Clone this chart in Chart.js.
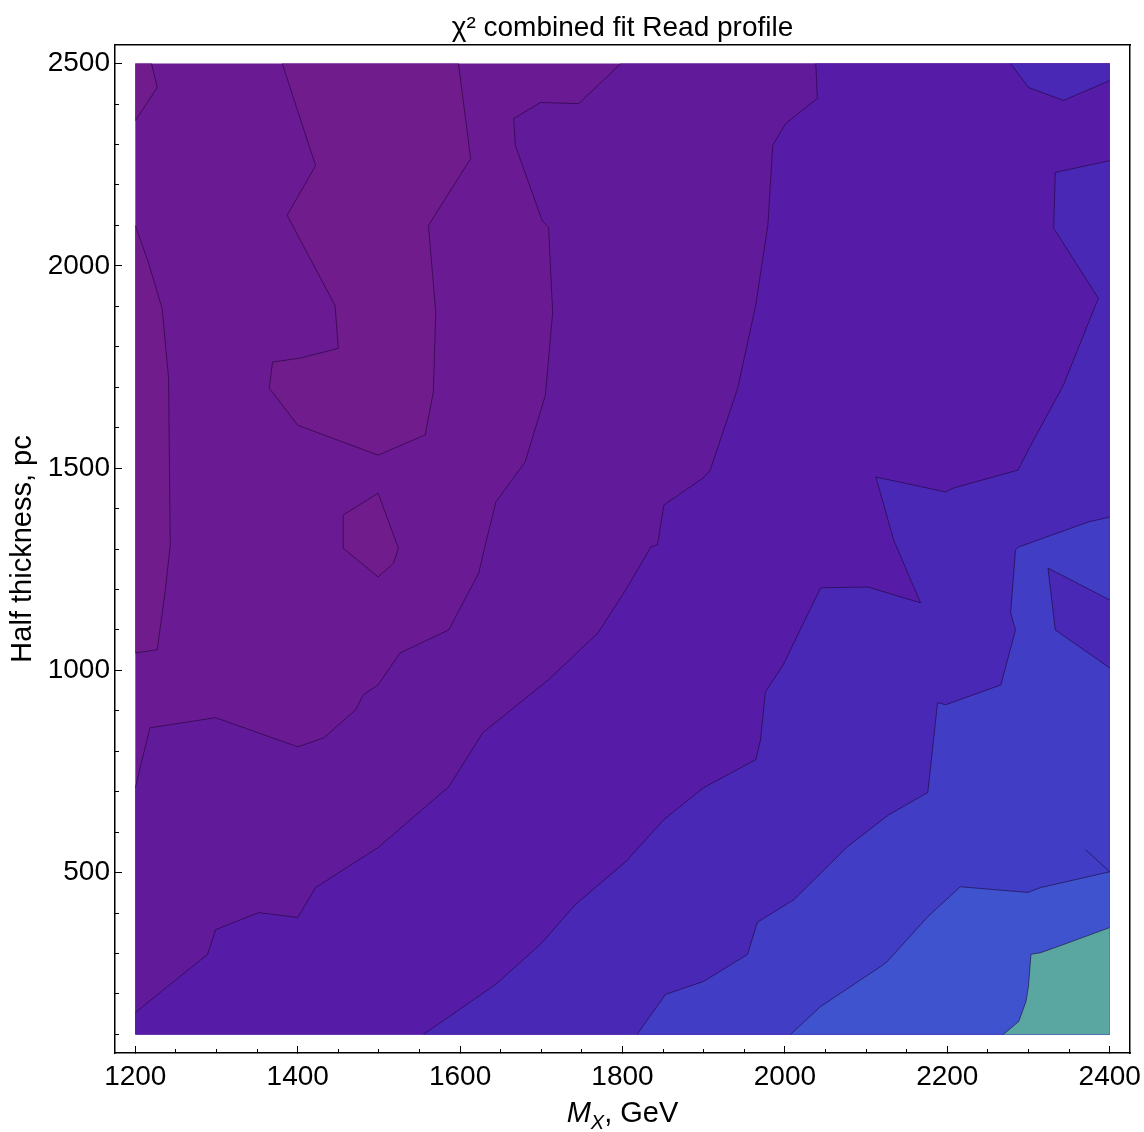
<!DOCTYPE html>
<html><head><meta charset="utf-8">
<script src="https://cdn.jsdelivr.net/npm/chart.js@4.4.1/dist/chart.umd.min.js"></script>
<style>html,body{margin:0;padding:0;background:#fff;}#wrap{width:1144px;height:1132px;position:relative;}</style>
</head><body><div id="wrap"><canvas id="c"></canvas></div>
<script>
const FONT = "'Liberation Sans', Arial, Helvetica, sans-serif";
// ---- tick labels ----
const xTickLabels = [1200, 1400, 1600, 1800, 2000, 2200, 2400];
const xMinorTicks = [1250, 1300, 1350, 1450, 1500, 1550, 1650, 1700, 1750, 1850, 1900, 1950, 2050, 2100, 2150, 2250, 2300, 2350];
const yTickLabels = [500, 1000, 1500, 2000, 2500];
const yMinorTicks = [100, 200, 300, 400, 600, 700, 800, 900, 1100, 1200, 1300, 1400, 1600, 1700, 1800, 1900, 2100, 2200, 2300, 2400];
// ---- contour regions (M_X GeV, half thickness pc) ----
const regionBase = [[1200,100],[2400,100],[2400,2500],[1200,2500],[1200,100]];
const regionL3 = [[1798,2500],[1746,2401],[1699,2404],[1666,2364],[1668,2298],[1701,2112],[1709,2095],[1714,1885],[1705,1680],[1680,1515],[1644,1416],[1631,1310],[1623,1241],[1586,1100],[1526,1043],[1499,964],[1481,940],[1471,902],[1432,833],[1400,811],[1299,883],[1218,858],[1200,710],[1200,100],[2400,100],[2400,2500],[1798,2500]];
const regionL4 = [[2038,2500],[2040,2414],[2001,2352],[1985,2298],[1979,2100],[1964,1902],[1942,1698],[1908,1495],[1899,1475],[1851,1409],[1843,1310],[1835,1305],[1804,1199],[1770,1093],[1709,977],[1628,846],[1586,712],[1499,562],[1422,463],[1400,389],[1352,401],[1299,359],[1289,298],[1200,154],[1200,100],[2400,100],[2400,2500],[2038,2500]];
const regionL5 = [[1555,100],[1644,224],[1689,305],[1701,327],[1742,421],[1804,527],[1851,631],[1900,710],[1964,779],[1970,828],[1976,947],[1998,1014],[2044,1204],[2102,1206],[2167,1167],[2134,1322],[2112,1478],[2198,1441],[2208,1451],[2287,1495],[2303,1557],[2343,1705],[2386,1920],[2331,2093],[2333,2231],[2400,2260],[2400,100],[1555,100]];
const regionL5corner = [[2278,2500],[2300,2441],[2343,2409],[2400,2458],[2400,2500],[2278,2500]];
const regionL6 = [[2400,1379],[2374,1367],[2288,1305],[2284,1298],[2278,1142],[2284,1100],[2266,964],[2198,915],[2188,920],[2176,698],[2128,643],[2077,564],[2011,433],[1966,377],[1954,298],[1900,231],[1853,199],[1818,100],[2400,100],[2400,1379]];
const regionL5island = [[2324,1253],[2400,1174],[2400,1006],[2333,1100],[2324,1253]];
const regionL7 = [[2007,100],[2044,169],[2118,268],[2126,280],[2176,391],[2216,465],[2299,451],[2315,463],[2400,502],[2400,100],[2007,100]];
const regionL8 = [[2269,100],[2288,132],[2297,182],[2300,219],[2303,298],[2315,302],[2343,322],[2400,364],[2400,100],[2269,100]];
const regionL1corner = [[1200,2500],[1220,2500],[1227,2441],[1200,2359],[1200,2500]];
const regionL1strip = [[1200,2100],[1216,2009],[1233,1895],[1241,1722],[1243,1310],[1237,1199],[1227,1051],[1200,1043],[1200,2100]];
const regionL1blob = [[1381,2500],[1422,2248],[1387,2125],[1446,1902],[1450,1796],[1403,1772],[1369,1762],[1365,1698],[1400,1606],[1499,1532],[1557,1582],[1567,1688],[1570,1885],[1561,2100],[1613,2265],[1598,2500],[1381,2500]];
const regionL1island = [[1456,1384],[1499,1438],[1524,1302],[1518,1265],[1499,1231],[1456,1302],[1456,1384]];
const contourSliver = [[2370,557],[2400,502]];

const C = {L1:'#701c8c', L2:'#6a1b93', L3:'#611b9a', L4:'#561ca8', L5:'#4a28b6', L6:'#413dc5', L7:'#3e53cd', L8:'#5aa6a0'};
const LINE = 'rgba(25,0,45,0.55)';
const X0 = 1200, X1 = 2400, Y0 = 100, Y1 = 2500;
const XMIN = 1175, XMAX = 2425, YMIN = 54, YMAX = 2546;

const layers = [
  {pts: regionBase, color: C.L2, stroke: false},
  {pts: regionL3, color: C.L3, stroke: true},
  {pts: regionL4, color: C.L4, stroke: true},
  {pts: regionL5, color: C.L5, stroke: true},
  {pts: regionL5corner, color: C.L5, stroke: true},
  {pts: regionL6, color: C.L6, stroke: true},
  {pts: regionL5island, color: C.L5, stroke: true},
  {pts: regionL7, color: C.L7, stroke: true},
  {pts: regionL8, color: C.L8, stroke: true},
  {pts: regionL1corner, color: C.L1, stroke: true},
  {pts: regionL1strip, color: C.L1, stroke: true},
  {pts: regionL1blob, color: C.L1, stroke: true},
  {pts: regionL1island, color: C.L1, stroke: true},
  {pts: contourSliver, color: null, stroke: true}
];
const toXY = a => a.map(([x, y]) => ({x, y}));
const onEdge = (a, b) => (a.x === X0 && b.x === X0) || (a.x === X1 && b.x === X1) || (a.y === Y0 && b.y === Y0) || (a.y === Y1 && b.y === Y1);
const datasets = [];
layers.forEach((l, i) => {
  if (!l.color) return;
  datasets.push({data: toXY(l.pts), showLine: true, fill: 'shape', backgroundColor: l.color,
    borderColor: 'rgba(0,0,0,0)', borderWidth: 0, pointRadius: 0, tension: 0, order: 1000 - i});
});
layers.forEach(l => {
  if (!l.stroke) return;
  datasets.push({data: toXY(l.pts), showLine: true, fill: false, borderColor: LINE, borderWidth: 1,
    pointRadius: 0, tension: 0, order: 0,
    segment: {borderColor: ctx => onEdge(ctx.p0.parsed, ctx.p1.parsed) ? 'rgba(0,0,0,0)' : undefined}});
});

const setTicks = arr => s => { s.ticks = arr.map(v => ({value: v})); };
const noPad = s => { s.paddingLeft = 0; s.paddingRight = 0; s.paddingTop = 0; s.paddingBottom = 0; };
const xTitlePlugin = {
  id: 'xTitle',
  afterDraw(chart) {
    const ctx = chart.ctx, a = chart.chartArea;
    const parts = [
      {t: 'M', f: 'italic 29px ' + FONT, dy: 0},
      {t: 'X', f: 'italic 20px ' + FONT, dy: 7},
      {t: ', GeV', f: '29px ' + FONT, dy: 0}
    ];
    let w = 0;
    parts.forEach(p => { ctx.font = p.f; p.w = ctx.measureText(p.t).width; w += p.w; });
    let x = (a.left + a.right) / 2 - w / 2;
    const base = chart.scales.x.bottom - 10;
    ctx.save();
    ctx.fillStyle = '#000'; ctx.textBaseline = 'alphabetic'; ctx.textAlign = 'left';
    parts.forEach(p => { ctx.font = p.f; ctx.fillText(p.t, x, base + p.dy); x += p.w; });
    ctx.restore();
  }
};

const tickFont = {family: FONT, size: 28};
new Chart(document.getElementById('c'), {
  type: 'scatter',
  data: {datasets},
  options: {
    responsive: true, maintainAspectRatio: false, animation: false,
    layout: {padding: {left: 0, right: 14, top: 0, bottom: 0}},
    plugins: {legend: {display: false}, tooltip: {enabled: false}, title: {display: false}},
    scales: {
      x: {type: 'linear', position: 'bottom', min: XMIN, max: XMAX, weight: 1,
        afterBuildTicks: setTicks(xTickLabels), afterFit: s => { s.height = 79; noPad(s); },
        grid: {drawOnChartArea: false, tickLength: -7, tickColor: '#000', tickWidth: 1},
        border: {display: true, color: '#000', width: 1.5},
        ticks: {font: tickFont, color: '#000', padding: 14, maxRotation: 0, autoSkip: false, callback: v => String(v)}},
      xMinor: {type: 'linear', position: 'bottom', min: XMIN, max: XMAX, weight: 0, display: true,
        afterBuildTicks: setTicks(xMinorTicks), afterFit: s => { s.height = 0; noPad(s); },
        grid: {drawOnChartArea: false, tickLength: -4, tickColor: '#000', tickWidth: 1},
        border: {display: false}, ticks: {display: false}},
      xTop: {type: 'linear', position: 'top', min: XMIN, max: XMAX, display: true,
        afterFit: s => { s.height = 45; noPad(s); }, grid: {display: false}, border: {display: true, color: '#000', width: 1.5},
        ticks: {display: false},
        title: {display: true, text: 'χ² combined fit Read profile', color: '#000',
          font: {family: FONT, size: 28, weight: 'normal'}, padding: {top: 11, bottom: 0}}},
      y: {type: 'linear', position: 'left', min: YMIN, max: YMAX, weight: 1,
        afterBuildTicks: setTicks(yTickLabels), afterFit: s => { s.width = 115; noPad(s); },
        grid: {drawOnChartArea: false, tickLength: -7, tickColor: '#000', tickWidth: 1},
        border: {display: true, color: '#000', width: 1.5},
        ticks: {font: tickFont, color: '#000', padding: 12, autoSkip: false, callback: v => String(v)},
        title: {display: true, text: 'Half thickness, pc', color: '#000', font: {family: FONT, size: 29}, padding: {top: 6, bottom: 0}}},
      yMinor: {type: 'linear', position: 'left', min: YMIN, max: YMAX, weight: 0, display: true,
        afterBuildTicks: setTicks(yMinorTicks), afterFit: s => { s.width = 0; noPad(s); },
        grid: {drawOnChartArea: false, tickLength: -4, tickColor: '#000', tickWidth: 1},
        border: {display: false}, ticks: {display: false}},
      yRight: {type: 'linear', position: 'right', min: YMIN, max: YMAX, display: true,
        afterFit: s => { s.width = 0; noPad(s); }, grid: {display: false}, border: {display: true, color: '#000', width: 1.5},
        ticks: {display: false}}
    }
  },
  plugins: [xTitlePlugin]
});
</script></body></html>
